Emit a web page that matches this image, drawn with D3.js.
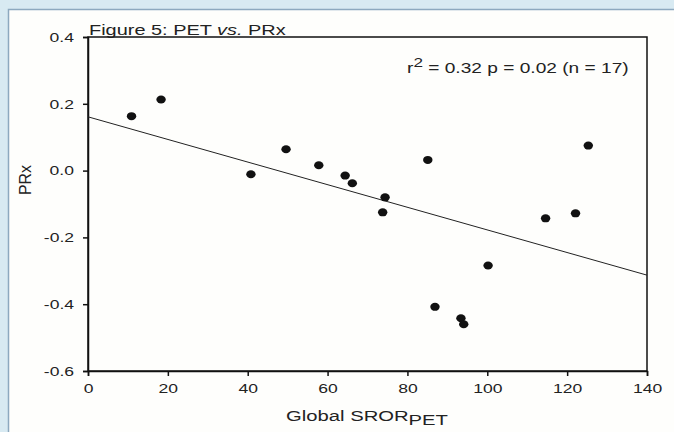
<!DOCTYPE html>
<html>
<head>
<meta charset="utf-8">
<script src="https://cdn.jsdelivr.net/npm/d3@7"></script>
<style>
  html, body { margin: 0; padding: 0; background: #d8eaf2; }
  svg { display: block; }
  text { font-family: "Liberation Sans", Arial, sans-serif; fill: #222; }
</style>
</head>
<body>
<svg id="chart" width="674" height="432"></svg>
<script>
// ---- data ----
const sror = [10.9, 18.3, 40.8, 49.6, 57.8, 64.4, 66.2, 74.4, 73.8, 85.1, 86.9, 93.4, 94.1, 100.2, 114.6, 122.1, 125.3];
const prx  = [0.163, 0.213, -0.011, 0.064, 0.016, -0.015, -0.038, -0.080, -0.125, 0.032, -0.408, -0.442, -0.460, -0.284, -0.143, -0.128, 0.075];
const fitX = [0, 140];
const fitY = [0.161, -0.313];
const xTicks = [0, 20, 40, 60, 80, 100, 120, 140];
const yTicks = [-0.6, -0.4, -0.2, 0.0, 0.2, 0.4];
const titleText = "Figure 5: PET ";
const statsText = ["r", "2", " = 0.32 p = 0.02 (n = 17)"];

const svg = d3.select("#chart");
const SX = 1.3; // horizontal text stretch seen in the reference

// panel
svg.append("rect").attr("x", 8.5).attr("y", 9.5).attr("width", 700).attr("height", 500)
  .attr("fill", "#fefefc").attr("stroke", "#8da9bf").attr("stroke-width", 1.5);

const m = {left: 88, top: 37, right: 647, bottom: 371};
const x = d3.scaleLinear().domain([0, 140]).range([m.left, m.right]);
const y = d3.scaleLinear().domain([-0.6, 0.4]).range([m.bottom, m.top]);

// frame
svg.append("rect").attr("x", m.left).attr("y", m.top)
  .attr("width", m.right - m.left).attr("height", m.bottom - m.top)
  .attr("fill", "none").attr("stroke", "#111").attr("stroke-width", 1.5);

// axes
const xAxis = svg.append("g").attr("transform", `translate(0,${m.bottom})`)
  .call(d3.axisBottom(x).tickValues(xTicks).tickSize(5).tickPadding(7).tickFormat(d => String(d)));
const yAxis = svg.append("g").attr("transform", `translate(${m.left},0)`)
  .call(d3.axisLeft(y).tickValues(yTicks).tickSize(5).tickPadding(5).tickFormat(d => d.toFixed(1)));
[xAxis, yAxis].forEach(g => {
  g.select(".domain").attr("stroke", "#111").attr("stroke-width", 1.5);
  g.selectAll(".tick line").attr("stroke", "#111").attr("stroke-width", 1.5);
  g.selectAll(".tick text").attr("font-size", 13.5).attr("fill", "#222")
    .style("font-family", "'Liberation Sans', Arial, sans-serif");
});
// stretch tick labels horizontally
xAxis.selectAll(".tick text").attr("transform", `scale(${SX},1)`).attr("x", 0);
yAxis.selectAll(".tick text").attr("transform", `translate(-14,0) scale(${SX},1)`).attr("x", 0);

// regression line
svg.append("line")
  .attr("x1", x(fitX[0])).attr("y1", y(fitY[0]))
  .attr("x2", x(fitX[1])).attr("y2", y(fitY[1]))
  .attr("stroke", "#222").attr("stroke-width", 1);

// points
svg.append("g").selectAll("ellipse").data(sror.map((v, i) => [v, prx[i]]))
  .join("ellipse")
  .attr("cx", d => x(d[0])).attr("cy", d => y(d[1]))
  .attr("rx", 4.7).attr("ry", 4).attr("fill", "#111");

// title
const title = svg.append("text").attr("transform", `translate(89,35) scale(1.33,1)`).attr("font-size", 15);
title.append("tspan").text(titleText);
title.append("tspan").attr("font-style", "italic").text("vs.");
title.append("tspan").text(" PRx");

// stats annotation
const st = svg.append("text").attr("transform", `translate(407,73) scale(1.32,1)`).attr("font-size", 14.5);
st.append("tspan").text(statsText[0]);
st.append("tspan").attr("dy", -6).attr("font-size", 13).text(statsText[1]);
st.append("tspan").attr("dy", 6).text(statsText[2]);

// x label
const xl = svg.append("text").attr("transform", `translate(367,421) scale(1.35,1)`)
  .attr("text-anchor", "middle").attr("font-size", 15);
xl.append("tspan").text("Global SROR");
xl.append("tspan").attr("dy", 4).attr("font-size", 15).text("PET");

// y label
svg.append("text").attr("transform", `translate(31,180) rotate(-90)`)
  .attr("text-anchor", "middle").attr("font-size", 16).text("PRx");
</script>
</body>
</html>
